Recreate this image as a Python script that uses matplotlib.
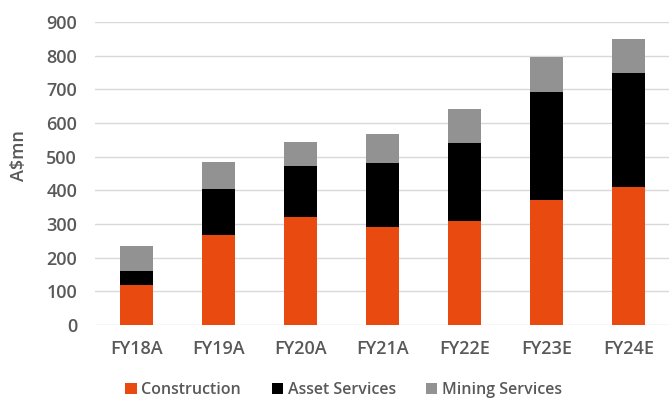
import numpy as np
import matplotlib.pyplot as plt

# revenue by segment, A$mn
years = ['FY18A', 'FY19A', 'FY20A', 'FY21A', 'FY22E', 'FY23E', 'FY24E']
construction = [120, 268, 320, 292, 310, 372, 410]
asset_services = [40, 135, 152, 188, 232, 321, 338]
mining_services = [75, 82, 73, 88, 99, 104, 100]

plt.rcParams['font.family'] = ['Open Sans', 'DejaVu Sans']

txt = '#595959'
c_con = '#E84A0F'
c_asset = '#000000'
c_mine = '#929292'

fig = plt.figure(figsize=(6.7, 3.98), dpi=100)
ax = fig.add_axes([0.142, 0.183, 0.857, 0.762])

x = np.arange(len(years))
con = np.array(construction)
ast = np.array(asset_services)
mine = np.array(mining_services)

w = 0.4
ax.bar(x, con, w, color=c_con, label='Construction', zorder=3)
ax.bar(x, ast, w, bottom=con, color=c_asset, label='Asset Services', zorder=3)
ax.bar(x, mine, w, bottom=con + ast, color=c_mine, label='Mining Services', zorder=3)

ax.set_xlim(-0.5, len(years) - 0.5)
ax.set_ylim(0, 900)
ax.set_yticks(range(0, 901, 100))
ax.set_xticks(x)
ax.set_xticklabels(years)
ax.yaxis.grid(True, color='#d9d9d9', linewidth=1, zorder=0)
ax.tick_params(axis='both', length=0, labelsize=13, labelcolor=txt)
ax.tick_params(axis='x', pad=11)
ax.tick_params(axis='y', pad=13)
for lab in ax.get_xticklabels() + ax.get_yticklabels():
    lab.set_fontweight('semibold')
for s in ax.spines.values():
    s.set_visible(False)

ax.set_ylabel('A$mn', fontsize=13, color=txt, fontweight='semibold')
ax.yaxis.set_label_coords(-0.117, 0.56)

leg = fig.legend(loc='lower center', bbox_to_anchor=(0.513, -0.024), ncol=3, frameon=False,
                 handlelength=0.7, handleheight=0.7, handletextpad=0.3,
                 columnspacing=1.9, borderpad=0.1,
                 prop={'weight': 'semibold', 'size': 11.5})
for t in leg.get_texts():
    t.set_color(txt)

fig.savefig('out.png', dpi=100)
